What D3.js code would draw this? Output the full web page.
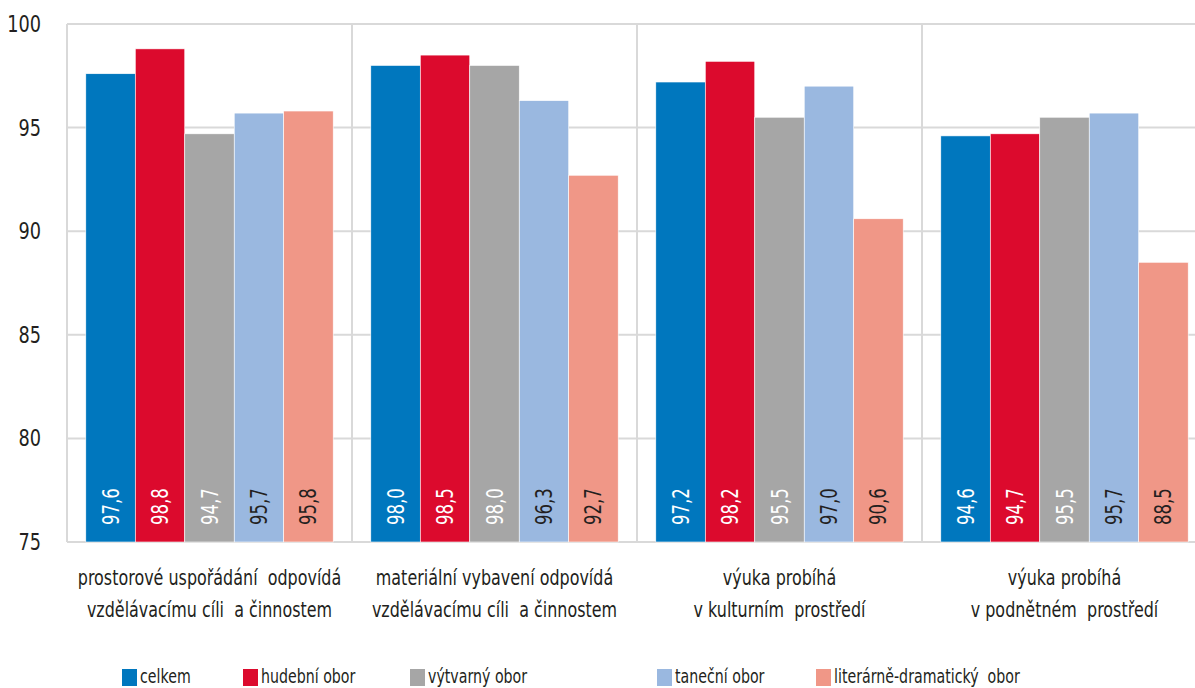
<!DOCTYPE html>
<html>
<head>
<meta charset="utf-8">
<script src="https://cdn.jsdelivr.net/npm/d3@7"></script>
<style>
  body { margin:0; background:#fff; }
  svg text { font-family: "DejaVu Sans", sans-serif; fill:#231f20; white-space: pre; }
</style>
</head>
<body>
<div id="canvas"></div>
<script>
// data
var categories = [
    ["prostorové uspořádání  odpovídá", "vzdělávacímu cíli  a činnostem"],
    ["materiální vybavení odpovídá", "vzdělávacímu cíli  a činnostem"],
    ["výuka probíhá", "v kulturním  prostředí"],
    ["výuka probíhá", "v podnětném  prostředí"]
];
var series = ["celkem", "hudební obor", "výtvarný obor", "taneční obor", "literárně-dramatický  obor"];
var colors = ["#0077be", "#dc0a2d", "#a6a6a6", "#9ab8e0", "#f09787"];
var labelColors = ["#fff", "#fff", "#fff", "#231f20", "#231f20"];
var celkem   = [97.6, 98.0, 97.2, 94.6];
var hudebni  = [98.8, 98.5, 98.2, 94.7];
var vytvarny = [94.7, 98.0, 95.5, 95.5];
var tanecni  = [95.7, 96.3, 97.0, 95.7];
var literarne = [95.8, 92.7, 90.6, 88.5];
var yTicks = [75, 80, 85, 90, 95, 100];

var values = [celkem, hudebni, vytvarny, tanecni, literarne];

var W = 1195, H = 688;
var svg = d3.select('#canvas').append('svg')
    .attr('width', W).attr('height', H);

// no condensed font installed, so squeeze text horizontally
function tr(x, y, sx, rot){
    return 'translate(' + x + ',' + y + ')' + (rot ? ' rotate(' + rot + ')' : '') + ' scale(' + sx + ',1)';
}

// plot area (runs off the right edge, as in the original)
var x0 = d3.scaleBand().domain(d3.range(categories.length)).range([67, 67 + 4*285]);
var x1 = d3.scaleBand().domain(d3.range(series.length)).range([0, x0.bandwidth()]).paddingOuter(0.38);
var y = d3.scaleLinear().domain([75, 100]).range([542, 24]);

var grid = svg.append('g');
grid.selectAll('line.h').data(yTicks).enter().append('line')
    .attr('x1', x0.range()[0]).attr('x2', x0.range()[1])
    .attr('y1', function(d){return y(d)}).attr('y2', function(d){return y(d)})
    .style('stroke', '#d9d9d9').style('stroke-width', 2);
grid.selectAll('line.v').data(d3.range(categories.length + 1)).enter().append('line')
    .attr('x1', function(d){return x0.range()[0] + d*x0.step()})
    .attr('x2', function(d){return x0.range()[0] + d*x0.step()})
    .attr('y1', y(100)).attr('y2', y(75))
    .style('stroke', '#d9d9d9').style('stroke-width', 2);

// y tick labels
svg.selectAll('text.yt').data(yTicks).enter().append('text')
    .attr('transform', function(d){return tr(41, y(d) + 8, 0.77)})
    .attr('text-anchor', 'end')
    .style('font-size', '23px')
    .text(function(d){return d});

// bars
var groups = svg.selectAll('g.grp').data(categories).enter().append('g')
    .attr('transform', function(d,i){return 'translate(' + x0(i) + ',0)'});

groups.each(function(c, gi){
    var g = d3.select(this);
    var rows = series.map(function(s, si){ return {si:si, v:values[si][gi]} });
    g.selectAll('rect').data(rows).enter().append('rect')
        .attr('x', function(d){return x1(d.si)})
        .attr('width', x1.bandwidth())
        .attr('y', function(d){return y(d.v)})
        .attr('height', function(d){return y(75) - y(d.v)})
        .style('fill', function(d){return colors[d.si]})
        .style('stroke', '#fff').style('stroke-width', 0.6);
    g.selectAll('text.val').data(rows).enter().append('text')
        .attr('transform', function(d){
            return tr(x1(d.si) + x1.bandwidth()/2 + 8, y(75) - 17, 0.72, -90);
        })
        .style('font-size', '23px')
        .style('fill', function(d){return labelColors[d.si]})
        .text(function(d){return d.v.toFixed(1).replace('.', ',')});
    g.selectAll('text.cat').data(c).enter().append('text')
        .attr('transform', function(d,i){return tr(x0.bandwidth()/2, 585 + i*32, 0.76)})
        .attr('text-anchor', 'middle')
        .style('font-size', '21px')
        .text(function(d){return d});
});

// legend
var legX = [122, 243, 410, 657, 816];
var leg = svg.selectAll('g.leg').data(series).enter().append('g')
    .attr('transform', function(d,i){return 'translate(' + legX[i] + ',669)'});
leg.append('rect').attr('width', 15).attr('height', 17)
    .style('fill', function(d,i){return colors[i]});
leg.append('text')
    .attr('transform', tr(18, 14, 0.71))
    .style('font-size', '20px')
    .text(function(d){return d});
</script>
</body>
</html>
